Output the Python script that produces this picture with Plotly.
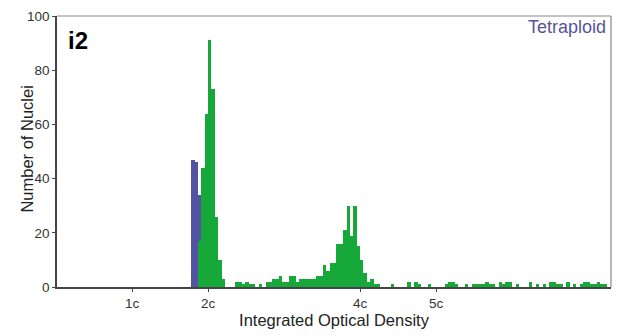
import plotly.graph_objects as go

# Histogram of integrated optical density (in units of c), bin width 2/45 c
BIN_W = 2 / 45

# Tetraploid population (bin index, count)
purple_bins = [40, 41, 42]
purple_counts = [47, 46, 34]

# Main population (bin index, count)
green_bins = [42, 43, 44, 45, 46, 47, 48, 49,
              53, 54, 55, 56, 57, 58, 60, 62, 63, 64, 65, 66, 67, 68, 69, 70,
              71, 72, 73, 74, 75, 76, 77, 78, 79, 80, 81, 82, 83, 84, 85, 86,
              87, 88, 89, 90, 91, 92, 93, 94, 95,
              99, 104, 106, 107, 110, 115, 116, 117, 118, 121, 123,
              124, 125, 126, 127, 128, 129, 131, 132, 133, 134, 136,
              140, 142, 144, 146, 147, 148, 149, 151, 153, 155, 156, 157,
              158, 159, 160, 161, 162]
green_counts = [17, 44, 64, 91, 73, 26, 10, 3,
                2, 2, 1, 2, 1, 1, 1, 2, 2, 3, 3, 4, 2, 2, 4, 4,
                2, 3, 3, 3, 3, 3, 4, 4, 8, 6, 9, 9, 16, 16, 21, 30,
                19, 30, 15, 10, 5, 2, 3, 1, 1,
                1, 2, 2, 1, 1, 1, 2, 2, 1, 1, 1,
                1, 1, 1, 2, 1, 1, 2, 1, 2, 2, 1,
                2, 1, 1, 2, 2, 1, 1, 2, 1, 1, 2, 2,
                1, 1, 2, 1, 1]

x_tickvals = [1, 2, 4, 5]
x_ticktext = ["1c", "2c", "4c", "5c"]
y_tickvals = [0, 20, 40, 60, 80, 100]

GREEN = "#17a83a"
PURPLE = "#5353a3"
FONT = "Liberation Sans, Arial, sans-serif"


def centers(bins):
    return [(b + 0.5) * BIN_W for b in bins]


fig = go.Figure()
fig.add_trace(go.Bar(x=centers(purple_bins), y=purple_counts, width=BIN_W,
                     marker=dict(color=PURPLE, line=dict(width=0)),
                     name="Tetraploid"))
fig.add_trace(go.Bar(x=centers(green_bins), y=green_counts, width=BIN_W,
                     marker=dict(color=GREEN, line=dict(width=0)),
                     name="Diploid"))

fig.update_layout(
    width=620, height=336,
    margin=dict(l=57, r=9, t=13, b=49),
    paper_bgcolor="white", plot_bgcolor="white",
    barmode="overlay", bargap=0, showlegend=False,
    font=dict(family=FONT, size=13, color="#333333"),
    xaxis=dict(range=[0.013, 7.3], tickvals=x_tickvals, ticktext=x_ticktext,
               ticks="outside", ticklen=3, tickcolor="#444", showgrid=False,
               zeroline=False, showline=True, linecolor="#444", linewidth=1.5,
               mirror=False, tickfont=dict(size=13.5, color="#333"),
               title=dict(text="Integrated Optical Density",
                          font=dict(size=16.5, color="#222"), standoff=4)),
    yaxis=dict(range=[0, 100], tickvals=y_tickvals, ticks="outside",
               ticklen=3, tickcolor="#444", showgrid=False, zeroline=False,
               showline=True, linecolor="#444", linewidth=1.5,
               tickfont=dict(size=13.5, color="#333")),
    shapes=[
        dict(type="line", xref="paper", yref="paper", x0=0, x1=1, y0=1, y1=1,
             line=dict(color="#888888", width=1.2)),
        dict(type="line", xref="paper", yref="paper", x0=1, x1=1, y0=0, y1=1,
             line=dict(color="#888888", width=1.2)),
    ],
    annotations=[
        dict(text="Number of Nuclei", xref="paper", yref="paper",
             x=-30 / 554, y=0.507, xanchor="center", yanchor="middle",
             textangle=-90, showarrow=False,
             font=dict(size=16.5, color="#222", family=FONT)),
        dict(text="<b>i2</b>", xref="paper", yref="paper", x=0.016, y=0.91,
             xanchor="left", yanchor="middle", showarrow=False,
             font=dict(size=24, color="black", family=FONT)),
        dict(text="Tetraploid", xref="paper", yref="paper", x=0.995, y=0.958,
             xanchor="right", yanchor="middle", showarrow=False,
             font=dict(size=18, color="#55559c", family=FONT)),
    ],
)

fig.write_html("out.html")
